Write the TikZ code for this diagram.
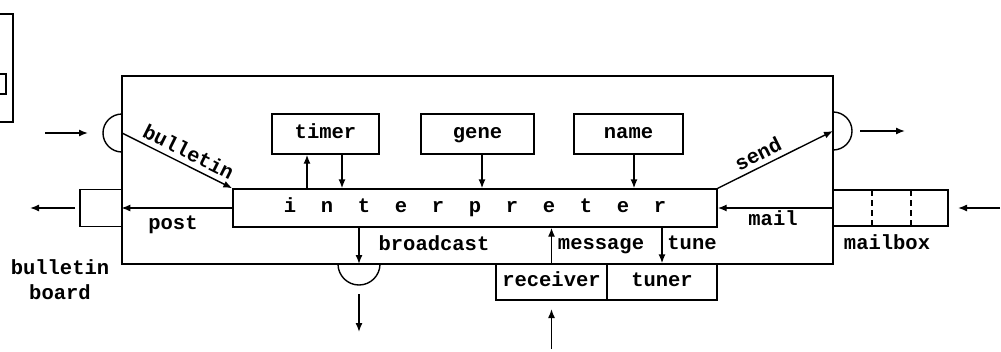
\documentclass[tikz,border=0pt]{standalone}
\usepackage{fontspec}
\setmonofont{Liberation Mono}
\usetikzlibrary{arrows.meta}
\begin{document}
\begin{tikzpicture}[x=1pt,y=-1pt, line width=1.4pt,
  every node/.style={font=\fontsize{20.5}{25}\selectfont\ttfamily\bfseries, inner sep=0pt},
  box/.style={draw, rectangle, line width=1.4pt},
  txt/.style={text height=11pt, text depth=3pt},
  arr/.style={-{Latex[length=9pt,width=7pt]}}]
\useasboundingbox (0,0) rectangle (1001,351);

% partial box at top left
\draw (0,14) -- (13,14) -- (13,122) -- (0,122);
\draw (0,74) -- (6,74) -- (6,94) -- (0,94);

% main boxes
\node[box, minimum width=711, minimum height=188] (outer) at (477.5,170) {};
\node[box, minimum width=484, minimum height=38] (interp) at (475,208) {};
\node[txt] (interptext) at (interp.center) {i\hspace{24.7pt}n\hspace{24.7pt}t\hspace{24.7pt}e\hspace{24.7pt}r\hspace{24.7pt}p\hspace{24.7pt}r\hspace{24.7pt}e\hspace{24.7pt}t\hspace{24.7pt}e\hspace{24.7pt}r};

\node[box, txt, minimum width=107, minimum height=40] (timer) at (325.5,134) {timer};
\node[box, txt, minimum width=113, minimum height=40] (gene) at (477.5,134) {gene};
\node[box, txt, minimum width=109, minimum height=40] (name) at (628.5,134) {name};

\node[box, minimum width=42, minimum height=37] (bb) at (101,208) {};
\node[box, minimum width=115, minimum height=36] (mailbox) at (890.5,208) {};
\draw[dash pattern=on 6pt off 4pt] (872,190) -- (872,226);
\draw[dash pattern=on 6pt off 4pt] (911,190) -- (911,226);

\node[box, txt, minimum width=111, minimum height=36] (receiver) at (551.5,282) {receiver};
\node[box, txt, minimum width=110, minimum height=36] (tuner) at (662,282) {tuner};

% ports
\coordinate (lp) at (122,133);
\coordinate (rp) at (833,131);
\coordinate (bc) at (359,264);
\draw (122,114) arc[start angle=270, end angle=90, radius=19];
\draw (833,112) arc[start angle=270, end angle=450, radius=19];
\draw (338,264) arc[start angle=180, end angle=0, radius=21];

% free ends
\coordinate (lin1) at (45,133);
\coordinate (lin2) at (88,133);
\coordinate (rout1) at (860,131);
\coordinate (rout2) at (905,131);
\coordinate (min1) at (1000,208);
\coordinate (min2) at (958,208);
\coordinate (bbo1) at (75,208);
\coordinate (bbo2) at (30,208);
\coordinate (bco1) at (359,294);
\coordinate (bco2) at (359,332);
\coordinate (rin1) at (551.5,349);
\coordinate (rin2) at (551.5,309);

\draw[arr] (lin1) -- (lin2);
\draw[arr] (rout1) -- (rout2);
\draw[arr] (min1) -- (min2);
\draw[arr] (bbo1) -- (bbo2);
\draw[arr] (bco1) -- (bco2);
\draw[arr] (rin1) -- (rin2);

% internal connectors
\draw[arr] (lp) -- (interp.north west) node[pos=0.55, above=5pt, sloped] {bulletin};
\draw[arr] (interp.north east) -- (rp) node[pos=0.4, above=5pt, sloped] {send};
\draw[arr] (interp.west) -- (interp.west -| outer.west);
\draw[arr] (interp.east -| outer.east) -- (interp.east);
\draw[arr] ([xshift=-18.5pt]timer.south |- interp.north) -- ([xshift=-18.5pt]timer.south);
\draw[arr] ([xshift=16.5pt]timer.south) -- ([xshift=16.5pt]timer.south |- interp.north);
\draw[arr] ([xshift=4.5pt]gene.south) -- ([xshift=4.5pt]gene.south |- interp.north);
\draw[arr] ([xshift=5.5pt]name.south) -- ([xshift=5.5pt]name.south |- interp.north);
\draw[arr] (bc |- interp.south) -- (bc);
\draw[arr] (receiver.north) -- (receiver.north |- interp.south);
\draw[arr] (tuner.north |- interp.south) -- (tuner.north);

% labels
\node[txt] (lpost) at (173,225) {post};
\node[txt] (lmail) at (773,221) {mail};
\node[txt] (lbroad) at (434,246) {broadcast};
\node[txt] (lmsg) at (601,245) {message};
\node[txt] (ltune) at (692,245) {tune};
\node[align=center] (lbb) at (60,279.5) {bulletin\\board};
\node[txt] (lmb) at (887,245) {mailbox};
\end{tikzpicture}
\end{document}
